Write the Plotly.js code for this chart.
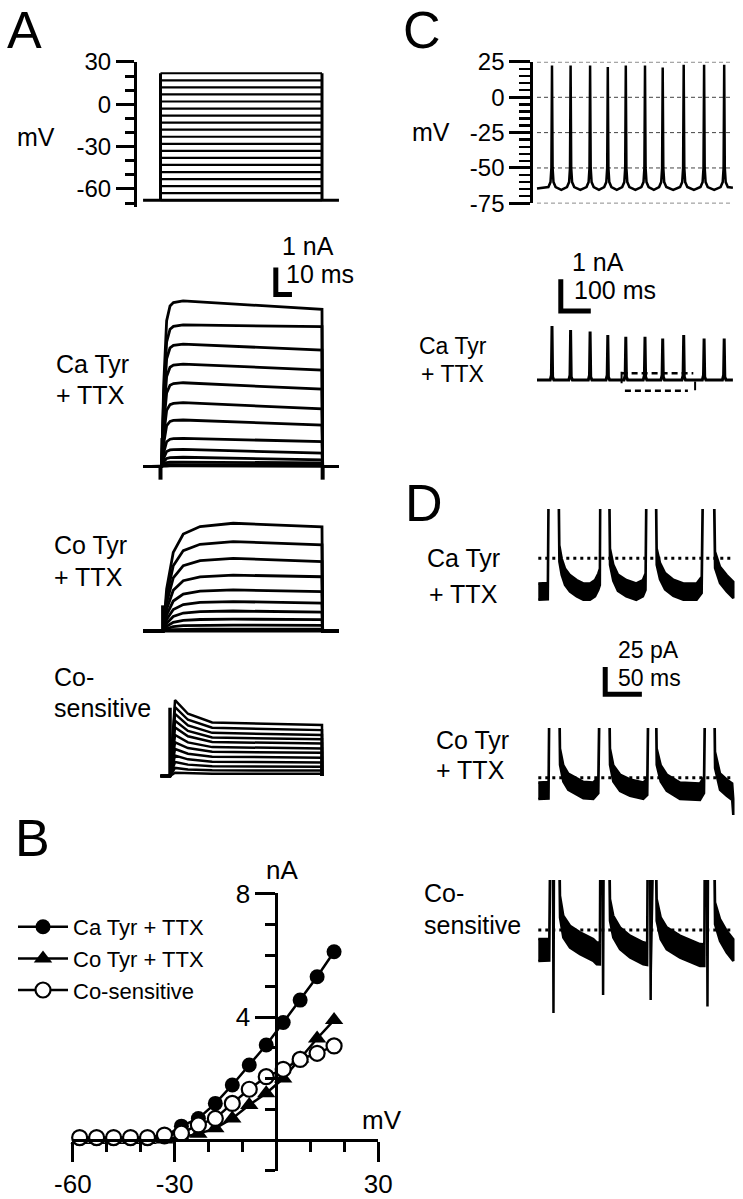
<!DOCTYPE html>
<html><head><meta charset="utf-8">
<script src="https://cdn.plot.ly/plotly-3.0.1.min.js"></script>
<style>html,body{margin:0;padding:0;background:#fff;}#chart{width:743px;height:1199px;}</style>
</head><body><div id="chart"></div>
<script>
// ================= DATA =================
// Panel A (top): command voltage steps (mV), pulse timing (ms)
const stepLevelsMV = [-68,-63,-58,-53,-48,-43,-38,-33,-28,-23,-18,-13,-8,-3,2,7,12,17,22];
const holdingMV = -68;
const pulseOnMs = 0, pulseOffMs = 100;
const sweepStartMs = -10.8, sweepEndMs = 110.5;
const aVoltTicks = [-60, -30, 0, 30];

// Panel A: Ca Tyr + TTX current family (nA): early plateau and end-of-pulse values
const caTyrPlateau = [6.14, 5.25, 4.54, 3.80, 3.11, 2.37, 1.73, 1.05, 0.64, 0.35, 0.17, 0.08, 0.03];
const caTyrEnd     = [5.83, 5.19, 4.32, 3.58, 2.87, 2.14, 1.54, 0.93, 0.50, 0.25, 0.14, 0.06, 0.01];
const caRiseMs   = [0.7, 2, 3.8, 5.9, 8, 14];
const caRiseFrac = [0, 0.5, 0.88, 0.97, 0.99, 1.0];

// Panel A: Co Tyr + TTX current family (nA)
const coTyrPlateau = [3.99, 3.31, 2.69, 2.07, 1.52, 1.09, 0.74, 0.44, 0.22, 0.07, 0.02];
const coTyrEnd     = [3.86, 3.19, 2.57, 2.01, 1.46, 1.03, 0.70, 0.42, 0.21, 0.07, 0.02];
const coRiseMs   = [1.7, 3.8, 7.9, 14.1, 24.5, 45];
const coRiseFrac = [0, 0.39, 0.73, 0.9, 0.97, 1.0];

// Panel A: Co-sensitive current family (nA): transient peak and end-of-pulse values
const cosPeak = [2.81, 2.55, 2.30, 2.05, 1.80, 1.52, 1.25, 1.00, 0.76, 0.52, 0.30, 0.12];
const cosEnd  = [1.89, 1.70, 1.52, 1.36, 1.20, 1.02, 0.86, 0.68, 0.50, 0.34, 0.20, 0.08];
const cosShapeMs   = [9, 17, 32, 100];
const cosShapeFrac = [1, 0.45, 0.1, 0];
const cosOnsetMs = 5.9;

// Panel B: I-V relations
const bMV   = [-58,-53,-48,-43,-38,-33,-28,-23,-18,-13,-8,-3,2,7,12,17];
const caIV  = [0.05,0.05,0.05,0.05,0.05,0.1,0.45,0.7,1.19,1.79,2.44,3.09,3.82,4.55,5.31,6.12];
const coIV  = [0,0,0,0,0,0.02,0.1,0.2,0.38,0.7,1.14,1.52,2.0,2.65,3.3,3.9];
const cosIV = [0.08,0.08,0.08,0.08,0.08,0.16,0.22,0.49,0.7,1.19,1.65,2.06,2.3,2.62,2.82,3.06];
const bXTicks = [-60, -30, 30];
const bYTicks = [4, 8];

// Panel C: action potential train (mV) and AP-clamp current (nA)
const cSpikeMs     = [50, 112, 177, 236, 296, 360, 419, 489, 557, 624];
const cSpikePeakMV = [22.5, 22.5, 22.5, 21.5, 22.5, 22.5, 21, 23, 23, 23];
const cStartMV = -64.5, cEndMV = -64, cTroughMV = -65.5, cTraceEndMs = 653;
const cApOffsetMs = [-12, -5, -2, 0, 2, 5, 12];
const cApShapeMV  = [-63.5, -60, -50, null, -50, -60, -63.5];   // null = spike peak
const cGridMV = [25, 0, -25, -50, -75];
const cVoltTicks = [-75, -50, -25, 0, 25];
const cCurPeakNA  = [1.7, 1.58, 1.53, 1.42, 1.36, 1.36, 1.31, 1.42, 1.31, 1.31];
const cCurOffsetMs = [-6, -2, 0, 2, 6];
const cCurShapeNA  = [0, 0.15, null, 0.1, 0];
const cBoxUpperMs = [282, 521], cBoxUpperNA = 0.21;
const cBoxLowerMs = [293, 503], cBoxLowerNA = -0.34;

// Panel D: expanded currents (pA), centre line of noisy traces
const dCaT = [0,13,15,26.4,28.7,31.9,36.4,43.2,52.4,61.4,70.5,77.4,81.9,84,85.1,95.5,97.8,102.3,108.6,120,133.6,142.7,146.3,148.7,159.2,161.5,166,172.9,184.2,197.9,216,222.9,226.1,237.9,241.1,247.9,257,266];
const dCaI = [-30.5,-30,150,150,4.5,-7.7,-16.8,-22.9,-27.4,-30.5,-30.5,-27.4,-21.4,-17,150,150,1.5,-13.2,-22.3,-27.4,-30.5,-27.4,-21.4,150,150,1.5,-11.7,-20.9,-27,-30.5,-30.5,-24.4,150,150,-1.5,-15.3,-22.9,-29];
const dCoT = [0,14,16,27.3,29.6,34.1,40.9,52.4,61.4,75,81.9,85.1,95.5,97.8,102.3,111.5,125.1,143.2,148.7,151.4,159.2,161.5,167,175.2,193.3,220.6,226.1,228.8,238.8,241.1,247.9,257,264.5,266];
const dCoI = [-11.9,-11.5,150,150,19.2,4,-3.7,-8.2,-11.3,-11.9,-6.7,150,150,19.2,4,-4.6,-9.1,-11.9,-8.2,150,150,19.2,4,-4.6,-11.9,-12.8,-6.7,150,150,16.2,-3.7,-9.1,-12.8,-27];
const dCosT = [0,15,17.3,19.6,20.7,21.8,27.3,29.6,34.1,43.2,56.9,75,79.7,84,85.1,87.2,88.4,89.6,95.5,97.8,102.3,111.5,125.1,143.2,148.5,149.8,152,153.3,154.6,159.2,161.5,167,175.2,193.3,220.6,226.5,227.6,229.6,230.8,232,238.8,241.1,247.9,257,266];
const dCosI = [-18.3,-18,150,150,-66,150,150,21.3,3,-6.1,-12.2,-18.3,-21.3,-21.5,150,150,-49.5,150,150,18.3,3,-7.6,-15.2,-21.3,-22,150,150,-54,150,150,18.3,1.5,-7.6,-15.2,-22.9,-23,150,150,-60,150,150,15.2,0,-10.7,-18.3];
const dNoiseHalfPA = {ca: 7.5, co: 7.5, cos: 10};
const dTraceEndMs = 266;

// ================= LAYOUT HELPERS =================
const FONT = 'Liberation Sans, Arial, Helvetica, sans-serif';
const W = 743, H = 1199;
const fx = p => p / W;
const fy = p => 1 - p / H;
const xdom = (a, b) => [fx(a), fx(b)];
const ydom = (top, bot) => [fy(bot), fy(top)];
const hRange = (a, b, q0, v0, s) => [v0 + (a - q0) / s, v0 + (b - q0) / s];
const vRange = (top, bot, q0, v0, s) => [v0 - (bot - q0) / s, v0 - (top - q0) / s];
const hidden = {visible:false, showgrid:false, zeroline:false, fixedrange:true};
const black = '#000';

const traces = [];
const line = (x, y, xa, ya, width, extra) => Object.assign({
  type:'scatter', mode:'lines', x, y, xaxis:xa, yaxis:ya,
  line:{color:black, width}, showlegend:false, hoverinfo:'skip'
}, extra || {});

// ---------- Panel A top: voltage steps ----------
(function(){
  const top = Math.max(...stepLevelsMV);
  const sx = [], sy = [];
  stepLevelsMV.forEach(v => { sx.push(pulseOnMs, pulseOffMs, null); sy.push(v, v, null); });
  traces.push(line(sx, sy, 'x', 'y', 2.2));
  traces.push(line([sweepStartMs, sweepEndMs, null, pulseOnMs, pulseOnMs, null, pulseOffMs, pulseOffMs],
                   [holdingMV, holdingMV, null, holdingMV, top, null, holdingMV, top], 'x', 'y', 3));
})();

// ---------- Panel A: current families ----------
function riseFamily(plateau, end, riseMs, riseFrac) {
  const X = [], Y = [];
  plateau.forEach((p, i) => {
    X.push(sweepStartMs); Y.push(0);
    riseMs.forEach((t, k) => { X.push(t); Y.push(p * riseFrac[k]); });
    X.push(pulseOffMs, pulseOffMs + 0.4, sweepEndMs, null);
    Y.push(end[i], 0, 0, null);
  });
  return [X, Y];
}
(function(){
  const [cx, cy] = riseFamily(caTyrPlateau, caTyrEnd, caRiseMs, caRiseFrac);
  traces.push(line(cx, cy, 'x', 'y2', 2.8));
  // capacitive transient and pulse markers
  traces.push(line([1.2, 1.2, null, 0, 0, null, 100.4, 100.4],
                   [0, 1.06, null, 0, -0.48, null, 0, -0.48], 'x', 'y2', 4));
  // scale bar 1 nA / 10 ms
  const sbT = 71.4, sbI = 6.38;
  traces.push(line([sbT, sbT, sbT + 10], [sbI + 1, sbI, sbI], 'x', 'y2', 5));

  const [ox, oy] = riseFamily(coTyrPlateau, coTyrEnd, coRiseMs, coRiseFrac);
  traces.push(line(ox, oy, 'x', 'y3', 2.8));
  traces.push(line([1.6, 1.6], [0, 0.95], 'x', 'y3', 4));

  const X = [], Y = [];
  cosPeak.forEach((p, i) => {
    X.push(pulseOnMs, cosOnsetMs); Y.push(0, 0);
    cosShapeMs.forEach((t, k) => { X.push(t); Y.push(cosEnd[i] + (p - cosEnd[i]) * cosShapeFrac[k]); });
    X.push(pulseOffMs, null); Y.push(0, null);
  });
  traces.push(line(X, Y, 'x', 'y4', 2.5));
  traces.push(line([cosOnsetMs, cosOnsetMs], [0, Math.max(...cosPeak) * 0.9], 'x', 'y4', 3.5));
})();

// ---------- Panel B: I-V ----------
traces.push({type:'scatter', mode:'lines+markers', x:bMV, y:caIV, xaxis:'x2', yaxis:'y5',
  name:'Ca Tyr + TTX', line:{color:black, width:2.5}, marker:{symbol:'circle', size:15, color:black}, cliponaxis:false, hoverinfo:'skip'});
traces.push({type:'scatter', mode:'lines+markers', x:bMV, y:coIV, xaxis:'x2', yaxis:'y5',
  name:'Co Tyr + TTX', line:{color:black, width:2.5}, marker:{symbol:'triangle-up', size:16, color:black}, cliponaxis:false, hoverinfo:'skip'});
traces.push({type:'scatter', mode:'lines+markers', x:bMV, y:cosIV, xaxis:'x2', yaxis:'y5',
  name:'Co-sensitive', line:{color:black, width:2.5}, marker:{symbol:'circle', size:15, color:'#fff', line:{color:black, width:2.2}}, cliponaxis:false, hoverinfo:'skip'});

// ---------- Panel C ----------
(function(){
  const X = [0], Y = [cStartMV];
  cSpikeMs.forEach((ts, i) => {
    if (i > 0) { X.push((cSpikeMs[i-1] + ts) / 2); Y.push(cTroughMV); }
    cApOffsetMs.forEach((o, k) => { X.push(ts + o); Y.push(cApShapeMV[k] === null ? cSpikePeakMV[i] : cApShapeMV[k]); });
  });
  X.push(cTraceEndMs); Y.push(cEndMV);
  traces.push(line(X, Y, 'x3', 'y6', 2.5));

  const CX = [0], CY = [0];
  cSpikeMs.forEach((ts, i) => {
    cCurOffsetMs.forEach((o, k) => { CX.push(ts + o); CY.push(cCurShapeNA[k] === null ? cCurPeakNA[i] : cCurShapeNA[k]); });
  });
  CX.push(cTraceEndMs); CY.push(0);
  traces.push(line(CX, CY, 'x3', 'y7', 3));
  traces.push(line(cBoxUpperMs, [cBoxUpperNA, cBoxUpperNA], 'x3', 'y7', 2.5, {line:{color:black, width:2.5, dash:'6px,4px'}}));
  traces.push(line(cBoxLowerMs, [cBoxLowerNA, cBoxLowerNA], 'x3', 'y7', 2.5, {line:{color:black, width:2.5, dash:'6px,4px'}}));
  traces.push(line([cBoxUpperMs[0], cBoxUpperMs[0], null, 527, 527], [0.26, -0.1, null, -0.05, -0.32], 'x3', 'y7', 2));
  // scale bar 1 nA / 100 ms
  const sbT = 79.3, sbI = 2.18;
  traces.push(line([sbT, sbT, sbT + 100], [sbI + 1, sbI, sbI], 'x3', 'y7', 5));
})();

// ---------- Panel D ----------
function band(T, I, hw, ya) {
  const X = T.concat(T.slice().reverse());
  const Y = I.map(v => v + hw).concat(I.slice().reverse().map(v => v - hw));
  return line(X, Y, 'x4', ya, 2.5, {fill:'toself', fillcolor:black});
}
traces.push(band(dCaT, dCaI, dNoiseHalfPA.ca, 'y8'));
traces.push(band(dCoT, dCoI, dNoiseHalfPA.co, 'y9'));
traces.push(band(dCosT, dCosI, dNoiseHalfPA.cos, 'y10'));
['y8', 'y9', 'y10'].forEach(ya => traces.push(line([0, dTraceEndMs], [0, 0], 'x4', ya, 3, {line:{color:black, width:3, dash:'3px,4px'}})));
traces.push(line([91.3, 91.3, 141.3], [25, 0, 0], 'x4', 'y11', 5));

// ================= LAYOUT =================
const tickFont = size => ({family:FONT, size, color:black});
const shapes = cGridMV.map(v => ({type:'line', xref:'x3', yref:'y6', x0:0, x1:645, y0:v, y1:v,
  line:{color:'#444', width:1, dash:'4px,3px'}, layer:'below'}));

const ann = (text, px, py, size, yanchor) => ({text, x:fx(px), y:fy(py), xref:'paper', yref:'paper',
  xanchor:'left', yanchor: yanchor || 'middle', showarrow:false, borderpad:0,
  font:{family:FONT, size, color:black}});

const annotations = [
  ann('A', 6, 30, 52), ann('B', 14, 838, 52), ann('C', 402, 30, 52), ann('D', 404, 503, 52),
  ann('mV', 16, 137, 25),
  ann('1 nA', 281, 246, 25), ann('10 ms', 285, 274, 25),
  ann('Ca Tyr', 55, 364, 25), ann('+ TTX', 55, 395, 25),
  ann('Co Tyr', 53, 545, 25), ann('+ TTX', 53, 577, 25),
  ann('Co-', 53, 677, 25), ann('sensitive', 53, 708, 25),
  ann('nA', 265, 870, 26), ann('mV', 361, 1120, 26),
  ann('mV', 411, 132, 25),
  ann('1 nA', 571, 262, 25), ann('100 ms', 573, 290, 25),
  // tightly stacked pairs: anchored at their shared boundary so boxes do not overlap
  ann('Ca Tyr', 418, 360, 23, 'bottom'), ann('+ TTX', 420, 360, 23, 'top'),
  ann('25 pA', 617, 664, 23, 'bottom'), ann('50 ms', 617, 664, 23, 'top'),
  ann('Ca Tyr', 426, 558, 25), ann('+ TTX', 428, 594, 25),
  ann('Co Tyr', 435, 740, 25), ann('+ TTX', 435, 770, 25),
  ann('Co-', 423, 893, 25), ann('sensitive', 423, 925, 25)
];

const bxS = 3.396, bx0 = 72.7;               // B: px per mV, pixel of -60 mV
const byS = 30.75, by0 = 1140;               // B: px per nA, pixel of 0 nA

const layout = {
  width:W, height:H, margin:{l:0, r:0, t:0, b:0}, paper_bgcolor:'#fff', plot_bgcolor:'rgba(0,0,0,0)',
  font:{family:FONT, color:black}, showlegend:true,
  legend:{x:fx(13), y:fy(906), xanchor:'left', yanchor:'top', font:tickFont(22), bgcolor:'rgba(0,0,0,0)',
          itemwidth:50, itemsizing:'trace', traceorder:'normal', tracegroupgap:0},
  // Panel A
  xaxis: Object.assign({}, hidden, {domain:xdom(137, 345), range:hRange(137, 345, 160.5, 0, 1.615)}),
  yaxis: {domain:ydom(61.5, 206.7), range:vRange(61.5, 206.7, 104.3, 0, 1.411), anchor:'x', side:'left',
          showgrid:false, zeroline:false, fixedrange:true, showline:true, linecolor:black, linewidth:3,
          ticks:'outside', ticklen:18, tickwidth:3, tickcolor:black, tickmode:'array',
          tickvals:aVoltTicks, ticktext:aVoltTicks.map(String), tickfont:tickFont(24),
          minor:{tickmode:'linear', tick0:0, dtick:10, ticks:'outside', ticklen:9, tickwidth:3, tickcolor:black, showgrid:false}},
  yaxis2: Object.assign({}, hidden, {domain:ydom(240, 490), range:vRange(240, 490, 466.7, 0, 27), anchor:'x'}),
  yaxis3: Object.assign({}, hidden, {domain:ydom(500, 660), range:vRange(500, 660, 631, 0, 27), anchor:'x'}),
  yaxis4: Object.assign({}, hidden, {domain:ydom(665, 795), range:vRange(665, 795, 776, 0, 27), anchor:'x'}),
  // Panel B
  xaxis2: {domain:xdom(bx0, bx0 + 90 * bxS), range:[-60.05, 30.05], anchor:'free', position:fy(by0),
           showgrid:false, zeroline:false, fixedrange:true, showline:true, linecolor:black, linewidth:3,
           ticks:'outside', ticklen:20, tickwidth:3, tickcolor:black, tickmode:'array',
           tickvals:bXTicks, ticktext:bXTicks.map(String), tickfont:tickFont(26),
           minor:{tickmode:'linear', tick0:0, dtick:10, ticks:'outside', ticklen:10, tickwidth:3, tickcolor:black, showgrid:false}},
  yaxis5: {domain:ydom(by0 - 8.02 * byS, by0 + 1 * byS), range:[-1, 8.02], anchor:'free', position:fx(bx0 + 60 * bxS), side:'left',
           showgrid:false, zeroline:false, fixedrange:true, showline:true, linecolor:black, linewidth:3,
           ticks:'outside', ticklen:20, tickwidth:3, tickcolor:black, tickmode:'array',
           tickvals:bYTicks, ticktext:bYTicks.map(String), tickfont:tickFont(26),
           minor:{tickmode:'linear', tick0:0, dtick:1, ticks:'outside', ticklen:10, tickwidth:3, tickcolor:black, showgrid:false}},
  // Panel C
  xaxis3: Object.assign({}, hidden, {domain:xdom(533.3, 738), range:hRange(533.3, 738, 537, 0, 0.3)}),
  yaxis6: {domain:ydom(97.3 - 25.1 * 1.413, 97.3 + 75.1 * 1.413), range:[-75.1, 25.1], anchor:'x3', side:'left',
           showgrid:false, zeroline:false, fixedrange:true, showline:true, linecolor:black, linewidth:3,
           ticks:'outside', ticklen:21, tickwidth:3, tickcolor:black, tickmode:'array',
           tickvals:cVoltTicks, ticktext:cVoltTicks.map(String), tickfont:tickFont(24),
           minor:{tickmode:'linear', tick0:0, dtick:5, ticks:'outside', ticklen:11, tickwidth:2.5, tickcolor:black, showgrid:false}},
  yaxis7: Object.assign({}, hidden, {domain:ydom(270, 400), range:vRange(270, 400, 380, 0, 31.7), anchor:'x3'}),
  // Panel D
  xaxis4: Object.assign({}, hidden, {domain:xdom(536, 740), range:hRange(536, 740, 538.3, 0, 0.733)}),
  yaxis8: Object.assign({}, hidden, {domain:ydom(509, 625), range:vRange(509, 625, 558.3, 0, 1.093), anchor:'x4'}),
  yaxis9: Object.assign({}, hidden, {domain:ydom(728, 815), range:vRange(728, 815, 777.7, 0, 1.093), anchor:'x4'}),
  yaxis10: Object.assign({}, hidden, {domain:ydom(880, 1025), range:vRange(880, 1025, 930, 0, 1.093), anchor:'x4'}),
  yaxis11: Object.assign({}, hidden, {domain:ydom(640, 705), range:vRange(640, 705, 694.2, 0, 1.093), anchor:'x4'}),
  shapes, annotations
};

Plotly.newPlot('chart', traces, layout, {staticPlot:true, displayModeBar:false});
</script>
</body></html>
